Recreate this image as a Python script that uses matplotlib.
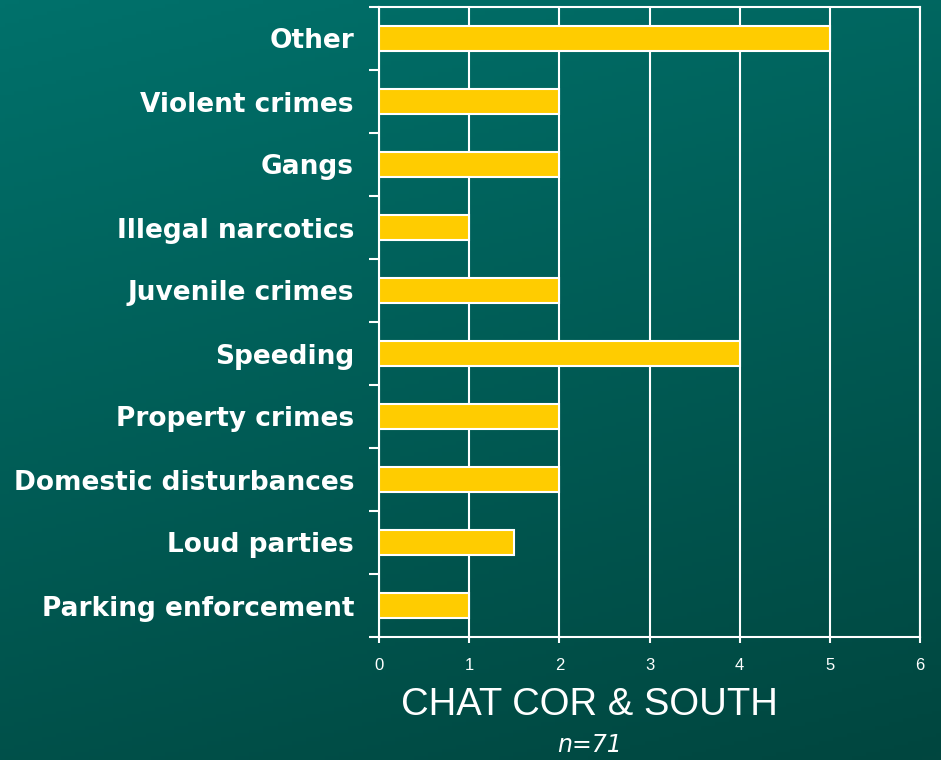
import numpy as np
import matplotlib.pyplot as plt

categories = ["Parking enforcement", "Loud parties", "Domestic disturbances",
              "Property crimes", "Speeding", "Juvenile crimes",
              "Illegal narcotics", "Gangs", "Violent crimes", "Other"]
counts = [1, 1.5, 2, 2, 4, 2, 1, 2, 2, 5]
x_ticks = [0, 1, 2, 3, 4, 5, 6]

plt.rcParams['font.family'] = ['Liberation Sans', 'DejaVu Sans']

fig = plt.figure(figsize=(9.41, 7.6), dpi=100)

# teal gradient background
bg = fig.add_axes([0, 0, 1, 1], zorder=-10)
yy, xx = np.mgrid[0:1:200j, 0:1:200j]
grad = 0.75 * yy + 0.25 * (1 - xx)
bg.imshow(grad, cmap=plt.matplotlib.colors.LinearSegmentedColormap.from_list(
    "teal", ["#01463f", "#00716b"]), aspect='auto', extent=[0, 1, 0, 1], origin='lower')
bg.axis('off')

ax = fig.add_axes([379/941, 1 - 637/760, 541/941, 630/760])
ax.patch.set_alpha(0)
pos = np.arange(len(categories))
ax.barh(pos, counts, height=0.4, color="#ffcc00", edgecolor="white", linewidth=1.5, zorder=3)

ax.set_xlim(0, 6)
ax.set_ylim(-0.5, len(categories) - 0.5)
ax.set_xticks(x_ticks)
ax.set_xticklabels([str(v) for v in x_ticks], color="white", fontsize=12,
                   family='Liberation Sans')
ax.xaxis.grid(True, color="white", linewidth=1.5, zorder=0)
ax.tick_params(axis='x', colors="white", length=4, width=1.5, pad=11)

ax.set_yticks(np.arange(-0.5, len(categories), 1.0))
ax.set_yticklabels([])
ax.set_yticks(pos, minor=True)
ax.set_yticklabels(categories, minor=True, color="white", fontsize=19,
                   fontweight='bold', family='DejaVu Sans')
ax.tick_params(axis='y', which='major', colors="white", length=7, width=1.5)
ax.tick_params(axis='y', which='minor', length=0, pad=18)

for s in ['left', 'bottom', 'top', 'right']:
    ax.spines[s].set_color("white")
    ax.spines[s].set_linewidth(1.5)

fig.text(589/941, 1 - 705/760, "CHAT COR & SOUTH", color="white", fontsize=27.5,
         ha='center', va='center')
fig.text(590/941, 1 - 745/760, "n=71", color="white", fontsize=17,
         family='DejaVu Sans', style='italic', ha='center', va='center')

fig.savefig("out.png", dpi=100)
